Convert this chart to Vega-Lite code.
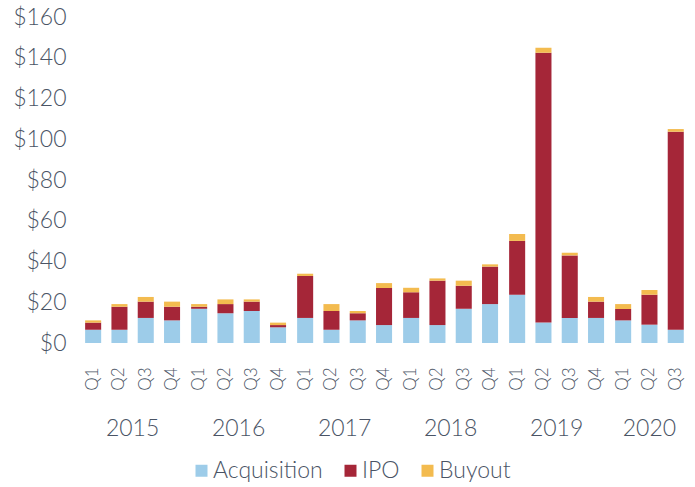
{
  "$schema": "https://vega.github.io/schema/vega-lite/v6.json",
  "padding": {"left": 12, "top": 6, "right": 5, "bottom": 5},
  "background": "white",
  "data": {"values": [
    {"year": "2015", "q": "Q1", "Acquisition": 6.5, "IPO": 3.5, "Buyout": 1.1},
    {"year": "2015", "q": "Q2", "Acquisition": 6.5, "IPO": 11.3, "Buyout": 1.3},
    {"year": "2015", "q": "Q3", "Acquisition": 12.3, "IPO": 8.0, "Buyout": 2.3},
    {"year": "2015", "q": "Q4", "Acquisition": 11.1, "IPO": 6.7, "Buyout": 2.5},
    {"year": "2016", "q": "Q1", "Acquisition": 16.8, "IPO": 1.0, "Buyout": 1.3},
    {"year": "2016", "q": "Q2", "Acquisition": 14.6, "IPO": 4.5, "Buyout": 2.3},
    {"year": "2016", "q": "Q3", "Acquisition": 15.7, "IPO": 4.6, "Buyout": 1.1},
    {"year": "2016", "q": "Q4", "Acquisition": 7.7, "IPO": 1.1, "Buyout": 1.2},
    {"year": "2017", "q": "Q1", "Acquisition": 12.3, "IPO": 20.6, "Buyout": 1.1},
    {"year": "2017", "q": "Q2", "Acquisition": 6.5, "IPO": 9.2, "Buyout": 3.4},
    {"year": "2017", "q": "Q3", "Acquisition": 11.1, "IPO": 3.5, "Buyout": 1.1},
    {"year": "2017", "q": "Q4", "Acquisition": 8.8, "IPO": 18.2, "Buyout": 2.4},
    {"year": "2018", "q": "Q1", "Acquisition": 12.3, "IPO": 12.6, "Buyout": 2.2},
    {"year": "2018", "q": "Q2", "Acquisition": 8.8, "IPO": 21.8, "Buyout": 1.1},
    {"year": "2018", "q": "Q3", "Acquisition": 16.8, "IPO": 11.3, "Buyout": 2.5},
    {"year": "2018", "q": "Q4", "Acquisition": 19.1, "IPO": 18.4, "Buyout": 1.1},
    {"year": "2019", "q": "Q1", "Acquisition": 23.7, "IPO": 26.4, "Buyout": 3.4},
    {"year": "2019", "q": "Q2", "Acquisition": 10.1, "IPO": 132.4, "Buyout": 2.4},
    {"year": "2019", "q": "Q3", "Acquisition": 12.3, "IPO": 30.7, "Buyout": 1.3},
    {"year": "2019", "q": "Q4", "Acquisition": 12.3, "IPO": 8.0, "Buyout": 2.3},
    {"year": "2020", "q": "Q1", "Acquisition": 11.1, "IPO": 5.6, "Buyout": 2.4},
    {"year": "2020", "q": "Q2", "Acquisition": 9.0, "IPO": 14.7, "Buyout": 2.3},
    {"year": "2020", "q": "Q3", "Acquisition": 6.5, "IPO": 97.2, "Buyout": 1.3}
  ]},
  "transform": [
    {"fold": ["Acquisition", "IPO", "Buyout"], "as": ["type", "value"]},
    {"lookup": "type", "from": {"data": {"values": [{"type": "Acquisition", "k": 1}, {"type": "IPO", "k": 2}, {"type": "Buyout", "k": 3}]}, "key": "type", "fields": ["k"]}}
  ],
  "facet": {
    "column": {
      "field": "year",
      "type": "ordinal",
      "header": {
        "title": null,
        "labelOrient": "bottom",
        "labelFont": "Lato",
        "labelFontWeight": 300,
        "labelFontSize": 23,
        "labelColor": "#4a5465",
        "labelPadding": 27
      }
    }
  },
  "spacing": 0,
  "resolve": {"scale": {"x": "independent"}},
  "spec": {
    "width": {"step": 26.3},
    "height": 326,
    "mark": {"type": "bar"},
    "encoding": {
      "x": {
        "field": "q",
        "type": "ordinal",
        "scale": {"paddingInner": 0.39, "paddingOuter": 0.195},
        "axis": {
          "title": null,
          "labelAngle": -90,
          "labelFont": "Lato",
          "labelFontWeight": 300,
          "labelFontSize": 17,
          "labelColor": "#4a5465",
          "labelPadding": 24,
          "ticks": false,
          "tickSize": 0,
          "domain": false
        }
      },
      "y": {
        "field": "value",
        "type": "quantitative",
        "stack": "zero",
        "scale": {"domain": [0, 160], "nice": false},
        "axis": {
          "title": null,
          "values": [0, 20, 40, 60, 80, 100, 120, 140, 160],
          "format": "$.0f",
          "labelFont": "Lato",
          "labelFontWeight": 300,
          "labelFontSize": 23,
          "labelColor": "#4a5465",
          "labelPadding": 14,
          "ticks": false,
          "domain": false,
          "grid": false
        }
      },
      "color": {
        "field": "type",
        "type": "nominal",
        "sort": ["Acquisition", "IPO", "Buyout"],
        "scale": {"domain": ["Acquisition", "IPO", "Buyout"], "range": ["#9dcce9", "#a52638", "#f3bb4f"]},
        "legend": {
          "title": null,
          "orient": "bottom",
          "direction": "horizontal",
          "symbolType": "square",
          "symbolSize": 144,
          "symbolStrokeWidth": 0,
          "symbolOpacity": 1,
          "labelFont": "Lato",
          "labelFontWeight": 300,
          "labelFontSize": 23,
          "labelColor": "#4a5465",
          "labelOffset": 0,
          "columnPadding": 16,
          "offset": 18
        }
      },
      "order": {"field": "k", "type": "quantitative", "sort": "ascending"}
    }
  },
  "config": {"view": {"stroke": null}, "legend": {"layout": {"bottom": {"anchor": "middle"}}}}
}
